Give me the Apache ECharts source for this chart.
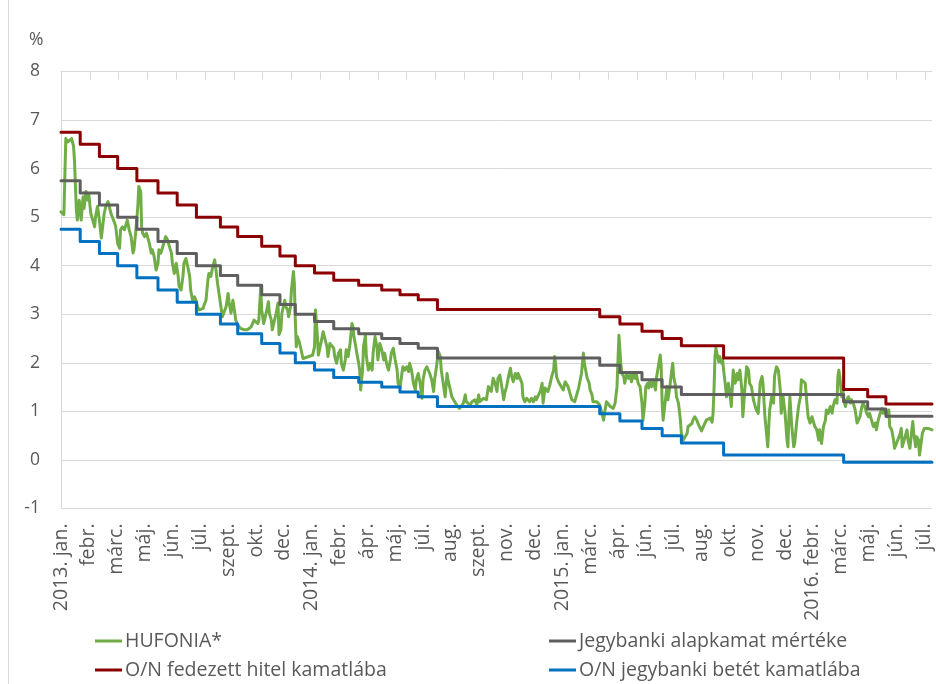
<!DOCTYPE html>
<html>
<head>
<meta charset="utf-8">
<script src="https://cdn.jsdelivr.net/npm/echarts@6/dist/echarts.min.js"></script>
<style>
  html, body { margin: 0; padding: 0; background: #ffffff; }
  #chart { width: 936px; height: 684px; }
</style>
</head>
<body>
<div id="chart"></div>
<script>
// x values are trading-day numbers counted from the first trading day of 2013
var monthLabels = ['2013. jan.', 'febr.', 'márc.', 'máj.', 'jún.', 'júl.', 'szept.', 'okt.', 'dec.',
  '2014. jan.', 'febr.', 'ápr.', 'máj.', 'júl.', 'aug.', 'szept.', 'nov.', 'dec.',
  '2015. jan.', 'márc.', 'ápr.', 'jún.', 'júl.', 'aug.', 'okt.', 'nov.', 'dec.',
  '2016. febr.', 'márc.', 'máj.', 'jún.', 'júl.'];
var labelStep = 29;   // trading days between month labels
var tickStep = 30;    // trading days between tick marks
var lastDay = 907;

var seriesNames = ['HUFONIA*', 'Jegybanki alapkamat mértéke', 'O/N fedezett hitel kamatlába', 'O/N jegybanki betét kamatlába'];

// central bank base rate, [day, %] at each change
var baseRate = [[0,5.75],[20,5.5],[40,5.25],[59,5.0],[79,4.75],[101,4.5],[121,4.25],[141,4.0],[166,3.8],[184,3.6],
  [209,3.4],[228,3.2],[244,3.0],[264,2.85],[284,2.7],[310,2.6],[334,2.5],[353,2.4],[372,2.3],[392,2.1],
  [561,1.95],[582,1.8],[605,1.65],[626,1.5],[646,1.35],[815,1.2],[840,1.05],[859,0.9],[907,0.9]];

// overnight collateralised loan rate
var loanRate = [[0,6.75],[20,6.5],[40,6.25],[59,6.0],[79,5.75],[101,5.5],[121,5.25],[141,5.0],[166,4.8],[184,4.6],
  [209,4.4],[228,4.2],[244,4.0],[264,3.85],[284,3.7],[310,3.6],[334,3.5],[353,3.4],[372,3.3],[392,3.1],
  [561,2.95],[582,2.8],[605,2.65],[626,2.5],[646,2.35],[690,2.1],[815,1.45],[840,1.3],[859,1.15],[907,1.15]];

// overnight deposit rate
var depositRate = [[0,4.75],[20,4.5],[40,4.25],[59,4.0],[79,3.75],[101,3.5],[121,3.25],[141,3.0],[166,2.8],[184,2.6],
  [209,2.4],[228,2.2],[244,2.0],[264,1.85],[284,1.7],[310,1.6],[334,1.5],[353,1.4],[372,1.3],[392,1.1],
  [561,0.95],[582,0.8],[605,0.65],[626,0.5],[646,0.35],[690,0.1],[815,-0.05],[907,-0.05]];

// HUFONIA overnight rate
var hufonia = [
  [0,5.11],[3,5.05],[5,6.62],[7,6.55],[9,6.58],[11,6.62],[13,6.47],[14,6.18],[16,5.15],[17,4.94],[19,5.35],[21,4.94],
  [23,5.42],[24,5.18],[26,5.53],[28,5.35],[29,5.46],[31,5.08],[33,4.94],[35,4.8],[36,5.01],[38,5.22],[40,4.94],[42,4.57],
  [43,4.74],[45,5.08],[47,5.25],[49,5.32],[50,5.28],[52,5.08],[54,5.11],[56,4.87],[57,4.8],[59,4.46],[61,4.36],[62,4.74],
  [64,4.8],[66,4.74],[68,4.87],[69,4.94],[71,4.74],[73,4.6],[75,4.26],[76,4.33],[78,4.74],[80,5.22],[81,5.63],[83,5.53],
  [84,4.8],[85,4.67],[87,4.6],[89,4.67],[90,4.63],[92,4.46],[94,4.26],[95,4.33],[97,4.19],[99,3.91],[101,4.05],[102,4.33],
  [104,4.26],[106,4.39],[108,4.53],[109,4.6],[111,4.53],[113,4.39],[115,4.26],[116,4.05],[118,3.84],[120,4.05],[122,3.78],
  [123,3.57],[125,3.5],[127,3.78],[128,4.05],[130,4.15],[132,3.98],[134,3.78],[135,3.5],[137,3.29],[139,3.36],[141,3.26],
  [142,3.16],[144,3.09],[146,3.12],[148,3.12],[149,3.19],[151,3.29],[153,3.71],[154,3.84],[156,3.78],[158,3.98],[160,4.12],
  [161,3.98],[163,3.64],[165,3.36],[167,3.09],[168,2.95],[170,2.95],[172,3.16],[174,3.43],[175,3.26],[177,3.02],[179,3.29],
  [180,3.16],[182,2.88],[184,2.78],[187,2.71],[191,2.68],[194,2.68],[198,2.74],[200,2.78],[201,2.88],[203,2.92],[205,2.81],
  [206,2.88],[208,3.57],[209,3.09],[211,2.81],[212,2.88],[215,3.16],[216,3.26],[217,3.02],[219,2.88],[220,2.68],[222,2.71],
  [224,3.02],[226,3.23],[227,2.58],[229,2.68],[230,3.02],[233,3.29],[234,3.16],[236,3.09],[237,2.95],[239,3.16],[240,3.5],
  [242,3.88],[243,3.64],[244,2.88],[245,2.33],[246,2.54],[248,2.44],[250,2.27],[252,2.09],[255,2.11],[258,2.13],[260,2.09],
  [262,2.16],[264,2.33],[265,3.09],[267,2.54],[268,2.16],[270,2.2],[271,2.44],[273,2.64],[275,2.68],[277,2.33],[278,2.13],
  [280,2.4],[282,2.44],[284,2.3],[285,2.13],[287,1.99],[289,2.2],[291,2.27],[292,1.99],[294,1.85],[296,2.06],[297,2.27],
  [299,2.13],[301,2.4],[303,2.81],[304,2.74],[305,2.54],[307,2.33],[308,2.2],[310,1.99],[311,1.85],[312,1.44],[314,1.85],
  [315,2.33],[317,2.57],[318,2.13],[320,1.85],[322,1.99],[324,1.85],[325,2.2],[327,2.54],[329,2.33],[330,2.06],[332,2.4],
  [334,2.27],[336,2.06],[337,2.2],[339,1.99],[341,1.85],[343,2.06],[344,2.2],[346,2.3],[348,2.06],[350,1.85],[351,1.58],
  [353,1.48],[355,1.78],[356,1.92],[358,1.85],[360,1.92],[362,1.82],[363,1.99],[365,1.85],[367,1.58],[369,1.44],[370,1.65],
  [372,1.78],[374,1.58],[376,1.27],[377,1.65],[379,1.85],[381,1.92],[382,1.95],[384,1.78],[386,1.65],[388,1.41],[389,1.65],
  [391,1.92],[393,2.23],[395,2.13],[396,1.85],[398,1.85],[400,1.3],[402,1.78],[403,1.65],[405,1.48],[407,1.3],[409,1.27],
  [410,1.2],[412,1.13],[414,1.1],[415,1.06],[417,1.04],[419,1.17],[421,1.34],[422,1.2],[424,1.17],[426,1.13],[428,1.2],
  [429,1.2],[431,1.24],[433,1.13],[435,1.34],[436,1.2],[438,1.2],[440,1.27],[442,1.3],[443,1.24],[445,1.51],[447,1.51],
  [448,1.41],[450,1.68],[452,1.58],[454,1.41],[455,1.68],[457,1.75],[459,1.51],[461,1.24],[462,1.37],[464,1.51],[466,1.72],
  [468,1.89],[469,1.75],[471,1.61],[473,1.78],[475,1.68],[476,1.78],[478,1.68],[480,1.58],[481,1.3],[483,1.2],[485,1.27],
  [487,1.24],[488,1.2],[490,1.27],[492,1.2],[494,1.3],[495,1.24],[497,1.2],[499,1.41],[501,1.58],[502,1.17],[504,1.48],
  [506,1.51],[507,1.41],[509,1.54],[511,1.72],[513,1.85],[514,2.13],[515,1.99],[516,1.72],[518,1.61],[520,1.54],[521,1.58],
  [523,1.44],[525,1.61],[527,1.65],[528,1.51],[530,1.37],[532,1.24],[534,1.27],[535,1.2],[537,1.24],[539,1.48],[540,1.44],
  [542,1.78],[544,2.2],[545,1.99],[547,1.78],[548,1.68],[550,1.58],[551,1.44],[553,1.34],[554,1.2],[556,1.24],[558,1.2],
  [560,1.24],[561,1.13],[563,0.99],[565,0.82],[566,0.96],[568,1.2],[570,1.24],[572,1.1],[573,1.06],[575,1.06],[577,1.17],
  [579,1.51],[580,2.06],[581,2.57],[582,2.27],[583,1.96],[584,1.78],[586,1.72],[587,1.58],[589,1.78],[591,1.68],[593,1.75],
  [594,1.61],[596,1.75],[598,1.68],[599,1.78],[601,1.58],[603,1.51],[605,1.17],[606,0.82],[608,1.17],[609,1.51],[611,1.58],
  [612,1.48],[613,1.61],[615,1.51],[617,1.65],[619,1.44],[620,1.68],[622,1.92],[624,2.16],[625,1.92],[626,1.17],[627,0.82],
  [629,1.17],[631,1.51],[632,1.24],[634,1.51],[636,1.85],[637,1.99],[638,1.72],[640,1.51],[641,1.3],[643,1.17],[645,0.82],
  [646,0.55],[648,0.41],[650,0.48],[652,0.55],[653,0.69],[655,0.65],[657,0.75],[658,0.82],[660,0.89],[662,0.82],[664,0.72],
  [665,0.69],[667,0.6],[669,0.69],[671,0.7],[672,0.82],[674,0.85],[676,0.86],[678,0.78],[679,0.96],[680,1.44],[681,2.13],
  [682,2.3],[683,2.2],[685,2.02],[686,2.13],[688,1.99],[689,2.06],[690,1.85],[692,1.51],[693,1.3],[695,1.58],[697,1.3],
  [698,1.1],[700,1.85],[702,1.58],[704,1.78],[705,1.65],[707,1.85],[709,1.44],[710,0.89],[712,1.44],[714,1.92],[716,1.85],
  [717,1.58],[719,1.51],[721,1.24],[723,1.1],[724,1.03],[726,0.96],[728,1.58],[730,1.72],[731,1.58],[733,0.89],[735,0.48],
  [736,0.27],[737,0.69],[738,1.03],[740,1.3],[742,1.17],[743,1.72],[745,1.92],[747,1.85],[749,1.44],[750,0.96],[752,1.3],
  [754,0.96],[756,0.41],[757,0.27],[758,0.89],[759,1.3],[761,0.69],[763,0.27],[764,0.34],[766,0.76],[768,1.1],[770,1.3],
  [771,1.65],[773,1.68],[775,1.58],[777,1.1],[778,0.89],[780,0.76],[782,0.89],[783,0.82],[785,0.69],[787,0.62],[789,0.41],
  [790,0.62],[792,0.34],[794,0.69],[796,0.82],[797,1.03],[799,0.96],[801,1.1],[803,0.96],[804,1.1],[806,1.24],[808,1.17],
  [809,1.72],[810,1.85],[811,1.72],[813,1.3],[814,1.51],[815,1.24],[817,1.1],[818,1.24],[820,1.3],[822,1.17],[823,1.24],
  [825,1.17],[827,1.03],[829,0.76],[830,0.76],[832,0.89],[834,1.1],[835,1.17],[837,1.1],[839,0.96],[841,0.89],[842,0.96],
  [844,0.82],[846,0.69],[848,0.76],[849,0.62],[851,0.82],[853,0.96],[855,1.06],[856,0.96],[858,1.03],[860,0.89],[862,1.03],
  [863,0.69],[865,0.62],[867,0.41],[868,0.24],[870,0.34],[872,0.31],[874,0.55],[875,0.65],[876,0.27],[877,0.24],[879,0.48],
  [881,0.62],[882,0.41],[884,0.24],[886,0.62],[887,0.79],[888,0.55],[890,0.27],[891,0.48],[893,0.41],[894,0.1],[896,0.07],
  [897,0.55],[899,0.65],[900,0.69],[901,0.62],[903,0.65],[905,0.69],[907,0.62]
];

var yTicks = { min: -1, max: 8, step: 1 };

var textColor = '#595959';
var gridColor = '#d9d9d9';
var fontFamily = '"Open Sans", Lato, sans-serif';
var colors = ['#70ad47', '#5f5f5f', '#8b0000', '#0070c0'];

var labelDays = monthLabels.map(function (_, i) { return i * labelStep; });
var tickDays = [];
for (var d = 0; d <= lastDay; d += tickStep) tickDays.push(d);

function lineSeries(name, data, color, step) {
  return {
    name: name, type: 'line', data: data, step: step || false,
    xAxisIndex: 0, yAxisIndex: 0,
    showSymbol: false, symbol: 'none', silent: true,
    lineStyle: { color: color, width: 3, cap: 'round', join: 'round' },
    itemStyle: { color: color }
  };
}

var legendBase = {
  orient: 'vertical', top: 631, itemWidth: 27, itemHeight: 3, itemGap: 9, padding: 0,
  icon: 'rect', selectedMode: false, itemStyle: { borderWidth: 0 },
  textStyle: { color: textColor, fontSize: 19.5, fontFamily: fontFamily, lineHeight: 20, padding: [0, 0, 0, -2] }
};

var chart = echarts.init(document.getElementById('chart'), null, { renderer: 'canvas' });
chart.setOption({
  animation: false,
  backgroundColor: '#ffffff',
  grid: { left: 61, right: 4, top: 71.5, bottom: 175.5, outerBoundsMode: 'none' },
  xAxis: [
    {
      type: 'value', position: 'bottom', min: 0, max: lastDay,
      axisLine: { show: false }, axisTick: { show: false }, splitLine: { show: false },
      axisLabel: {
        customValues: labelDays, rotate: 90, margin: 15,
        color: textColor, fontSize: 19.5, fontFamily: fontFamily,
        formatter: function (v) { var i = labelDays.indexOf(v); return i >= 0 ? monthLabels[i] : ''; }
      }
    },
    {
      type: 'value', position: 'top', min: 0, max: lastDay,
      axisLine: { show: true, onZero: true, lineStyle: { color: gridColor, width: 1 } },
      axisTick: { show: true, inside: true, length: 8, customValues: tickDays, lineStyle: { color: gridColor, width: 1 } },
      axisLabel: { show: false }, splitLine: { show: false }
    }
  ],
  yAxis: {
    type: 'value', min: yTicks.min, max: yTicks.max, interval: yTicks.step,
    axisLine: { show: true, lineStyle: { color: gridColor, width: 1 } },
    axisTick: { show: false },
    splitLine: { show: true, lineStyle: { color: gridColor, width: 1 } },
    axisLabel: { color: textColor, fontSize: 17.5, fontFamily: fontFamily, margin: 21 }
  },
  legend: [
    Object.assign({}, legendBase, { left: 95, data: [seriesNames[0], seriesNames[2]] }),
    Object.assign({}, legendBase, { left: 549, data: [seriesNames[1], seriesNames[3]] })
  ],
  graphic: [
    { type: 'line', shape: { x1: 8.5, y1: 0, x2: 8.5, y2: 684 }, style: { stroke: gridColor, lineWidth: 1 }, silent: true },
    { type: 'text', left: 29, top: 31, style: { text: '%', fill: textColor, font: '17.5px ' + fontFamily }, silent: true }
  ],
  series: [
    lineSeries(seriesNames[0], hufonia, colors[0]),
    lineSeries(seriesNames[1], baseRate, colors[1], 'end'),
    lineSeries(seriesNames[2], loanRate, colors[2], 'end'),
    lineSeries(seriesNames[3], depositRate, colors[3], 'end')
  ]
});
</script>
</body>
</html>
